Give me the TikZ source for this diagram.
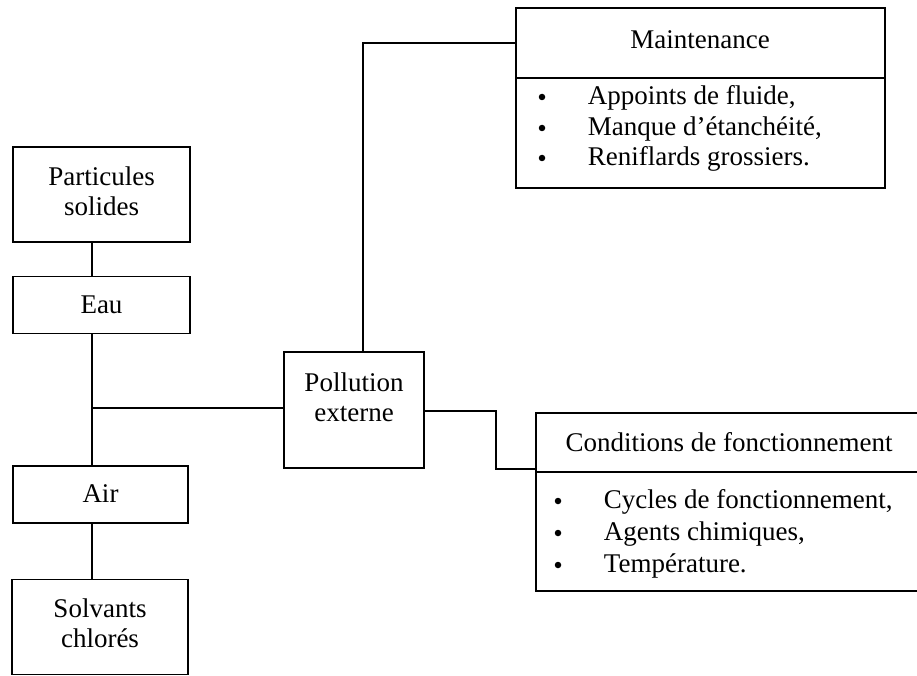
\documentclass[tikz,border=0pt]{standalone}
\usepackage{fontspec}
\setmainfont{Liberation Serif}
\begin{document}
\begin{tikzpicture}[x=1pt,y=-1pt,
  line width=1.8pt,
  every node/.style={font=\fontsize{27}{30}\selectfont, inner sep=0pt},
  frame/.style={draw, rectangle, line width=1.8pt},
  label/.style={align=center},
  item/.style={anchor=west},
  dot/.style={circle, fill, minimum size=6.5pt}]
\useasboundingbox (0,0) rectangle (917,676);

% left column of pollutant boxes
\node[frame, minimum width=177, minimum height=95] (part) at (101.5,194.5) {};
\node[label] (partt) at (101.5,191) {Particules\\solides};
\node[frame, minimum width=177, minimum height=57] (eau) at (101.5,305) {};
\node[label] (eaut) at (101.5,305) {Eau};
\node[frame, minimum width=175, minimum height=57] (air) at (100.5,494.5) {};
\node[label] (airt) at (100.5,494) {Air};
\node[frame, minimum width=176, minimum height=95] (solv) at (100,627) {};
\node[label] (solvt) at (100,623) {Solvants\\chlorés};

% central box
\node[frame, minimum width=140, minimum height=116] (poll) at (354,410) {};
\node[label] (pollt) at (354,397) {Pollution\\externe};

% maintenance box
\node[frame, minimum width=369, minimum height=180] (maint) at (700.5,98) {};
\coordinate (mdiv) at (0,78);
\draw (maint.west |- mdiv) -- (maint.east |- mdiv);
\node (mtitle) at (700,40) {Maintenance};
\node[dot] (mb1) at (542,97) {};
\node[dot] (mb2) at (542,128) {};
\node[dot] (mb3) at (542,158) {};
\node[item] (mi1) at (587,98) {Appoints de fluide,};
\node[item] (mi2) at (587,129) {Manque d’étanchéité,};
\node[item] (mi3) at (587,159) {Reniflards grossiers.};

% operating conditions box (runs past the right edge)
\node[frame, minimum width=390, minimum height=178] (cond) at (731,502) {};
\coordinate (cdiv) at (0,472);
\draw (cond.west |- cdiv) -- (cond.east |- cdiv);
\node (ctitle) at (729,442) {Conditions de fonctionnement};
\node[dot] (cb1) at (558,501) {};
\node[dot] (cb2) at (558,533) {};
\node[dot] (cb3) at (558,565) {};
\node[item] (ci1) at (603,502) {Cycles de fonctionnement,};
\node[item] (ci2) at (603,534) {Agents chimiques,};
\node[item] (ci3) at (603,566) {Température.};

% connectors
\coordinate (spine) at (92,0);
\coordinate (jn) at (92,408);
\draw (part.south -| spine) -- (eau.north -| spine);
\draw (eau.south -| spine) -- (air.north -| spine);
\draw (air.south -| spine) -- (solv.north -| spine);
\draw (jn) -- (poll.west |- jn);

\coordinate (up) at (363,43);
\draw (poll.north -| up) -- (up) -- (maint.west |- up);

\coordinate (r1) at (0,411);
\coordinate (bend) at (496,469);
\draw (poll.east |- r1) -- (bend |- r1) -- (bend) -- (cond.west |- bend);
\end{tikzpicture}
\end{document}
